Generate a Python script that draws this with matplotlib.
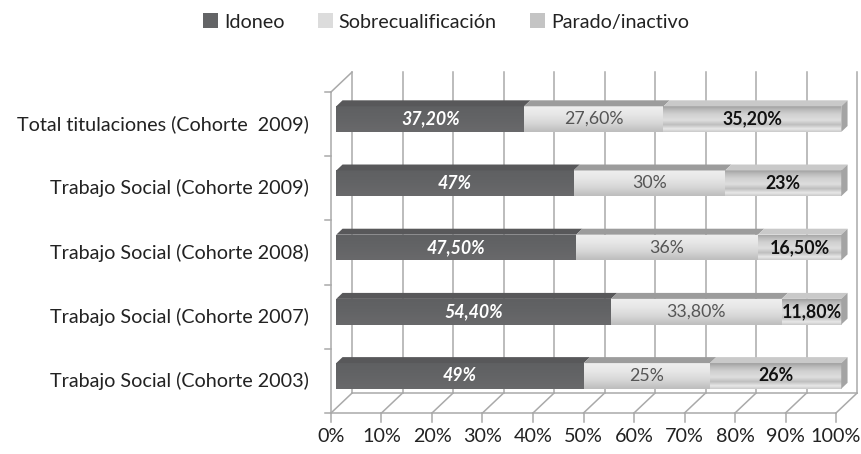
import matplotlib; matplotlib.use('Agg')
import matplotlib.pyplot as plt
import numpy as np
from matplotlib.colors import LinearSegmentedColormap
from matplotlib.patches import Polygon, Patch

# data
categories = ['Trabajo Social (Cohorte 2003)', 'Trabajo Social (Cohorte 2007)',
              'Trabajo Social (Cohorte 2008)', 'Trabajo Social (Cohorte 2009)',
              'Total titulaciones (Cohorte  2009)']
idoneo = [49, 54.4, 47.5, 47, 37.2]
sobre = [25, 33.8, 36, 30, 27.6]
parado = [26, 11.8, 16.5, 23, 35.2]
lab_idoneo = ['49%', '54,40%', '47,50%', '47%', '37,20%']
lab_sobre = ['25%', '33,80%', '36%', '30%', '27,60%']
lab_parado = ['26%', '11,80%', '16,50%', '23%', '35,20%']
series = ['Idoneo', 'Sobrecualificación', 'Parado/inactivo']
xticks = np.arange(0, 101, 10)
xticklabels = [f'{t}%' for t in xticks]

plt.rcParams['font.family'] = ['Lato', 'DejaVu Sans']
FS = 14.2
FS_BAR = 12.8
GRID = '#a9a9a9'

fig = plt.figure(figsize=(8.62, 4.54), dpi=100)
ax = fig.add_axes([331/862, 41/454, 505/862, 321/454])
ax.set_xlim(0, 100)
ax.set_ylim(-0.5, 4.5)
ax.axis('off')

# fake 3D depth, in data units
DX, DY = 4.16, 0.31
f, b = 0.25, 0.55      # bar front / back depth
h = 0.4
n = len(categories)
ypos = np.arange(n)

# back wall gridlines
for t in xticks:
    ax.plot([t + DX] * 2, [-0.5 + DY, 4.5 + DY], color=GRID, lw=1.1, zorder=1, clip_on=False)
# floor
ax.plot([0, 100], [-0.5, -0.5], color=GRID, lw=1.1, zorder=1, clip_on=False)
ax.plot([DX, 100 + DX], [-0.5 + DY] * 2, color=GRID, lw=1.1, zorder=1, clip_on=False)
for t, tl in zip(xticks, xticklabels):
    ax.plot([t, t + DX], [-0.5, -0.5 + DY], color=GRID, lw=1.1, zorder=1, clip_on=False)
    ax.plot([t, t], [-0.5, -0.64], color=GRID, lw=1.1, zorder=1, clip_on=False)
    ax.text(t, -0.87, tl, ha='center', va='center', fontsize=FS, color='#222222')
# left wall
ax.plot([0, 0], [-0.5, 4.5], color=GRID, lw=1.1, zorder=1, clip_on=False)
ax.plot([0, DX], [4.5, 4.5 + DY], color=GRID, lw=1.1, zorder=1, clip_on=False)
for yb in np.arange(-0.5, 4.6, 1):
    ax.plot([-1.2, 0], [yb, yb], color=GRID, lw=1.1, zorder=1, clip_on=False)

# category labels
for i, c in enumerate(categories):
    ax.text(-4.4, i, c, ha='right', va='center', fontsize=FS, color='#222222')

# gradients for the front faces
cm_idoneo = LinearSegmentedColormap.from_list('i', ['#69696b', '#636466', '#5f6062'])
cm_sobre = LinearSegmentedColormap.from_list('s', ['#bdbdbd', '#d6d6d6', '#e6e6e6', '#efefef'])
cm_parado = LinearSegmentedColormap.from_list(
    'p', [(0, '#cacaca'), (0.12, '#e8e8e8'), (0.28, '#bebebe'), (0.45, '#dedede'),
          (0.7, '#d0d0d0'), (0.88, '#b8b8b8'), (1, '#a0a0a0')])
grad = np.linspace(0, 1, 64).reshape(-1, 1)

def draw_series(vals, lefts, cmap, base, topc, labels, tcolor, weight, style):
    bars = ax.barh(ypos + f * DY, vals, left=np.array(lefts) + f * DX, height=h,
                   color=base, zorder=3, clip_on=False)
    for i, r in enumerate(bars):
        x0, y0 = r.get_x(), r.get_y()
        x1, y1 = x0 + r.get_width(), y0 + r.get_height()
        im = ax.imshow(grad, cmap=cmap, extent=[x0, x1, y1, y0], aspect='auto',
                       zorder=3.1, interpolation='bilinear')
        im.set_clip_path(r)
        xs, xe = lefts[i], lefts[i] + vals[i]
        yt = ypos[i] + h / 2
        ax.add_patch(Polygon([(xs + f * DX, yt + f * DY), (xs + b * DX, yt + b * DY),
                              (xe + b * DX, yt + b * DY), (xe + f * DX, yt + f * DY)],
                             closed=True, color=topc, zorder=3.2, clip_on=False, lw=0))
        ax.text((x0 + x1) / 2, ypos[i] + f * DY, labels[i], ha='center', va='center',
                fontsize=FS_BAR, color=tcolor, fontweight=weight, fontstyle=style, zorder=5)
    return bars

zero = [0] * n
left2 = list(idoneo)
left3 = [a + s for a, s in zip(idoneo, sobre)]
draw_series(idoneo, zero, cm_idoneo, '#636466', '#58585a', lab_idoneo, 'white', 'bold', 'italic')
draw_series(sobre, left2, cm_sobre, '#d8d8d8', '#9c9c9c', lab_sobre, '#555555', 'normal', 'normal')
draw_series(parado, left3, cm_parado, '#c8c8c8', '#c9c9c9', lab_parado, '#111111', 'bold', 'normal')

# right end caps
for i in range(n):
    xe = left3[i] + parado[i]
    yl, yt = ypos[i] - h / 2, ypos[i] + h / 2
    ax.add_patch(Polygon([(xe + f * DX, yl + f * DY), (xe + b * DX, yl + b * DY),
                          (xe + b * DX, yt + b * DY), (xe + f * DX, yt + f * DY)],
                         closed=True, color='#a4a4a4', zorder=3.2, clip_on=False, lw=0))

ax.set_xlim(0, 100)
ax.set_ylim(-0.5, 4.5)

handles = [Patch(facecolor='#636466'), Patch(facecolor='#dcdcdc'), Patch(facecolor='#c4c4c4')]
fig.legend(handles, series, loc='center', bbox_to_anchor=(446/862, 1 - 22/454), ncol=3,
           frameon=False, fontsize=FS, handlelength=0.75, handleheight=0.75,
           handletextpad=0.3, columnspacing=1.7, labelcolor='#222222')

fig.savefig('out.png', dpi=100)
